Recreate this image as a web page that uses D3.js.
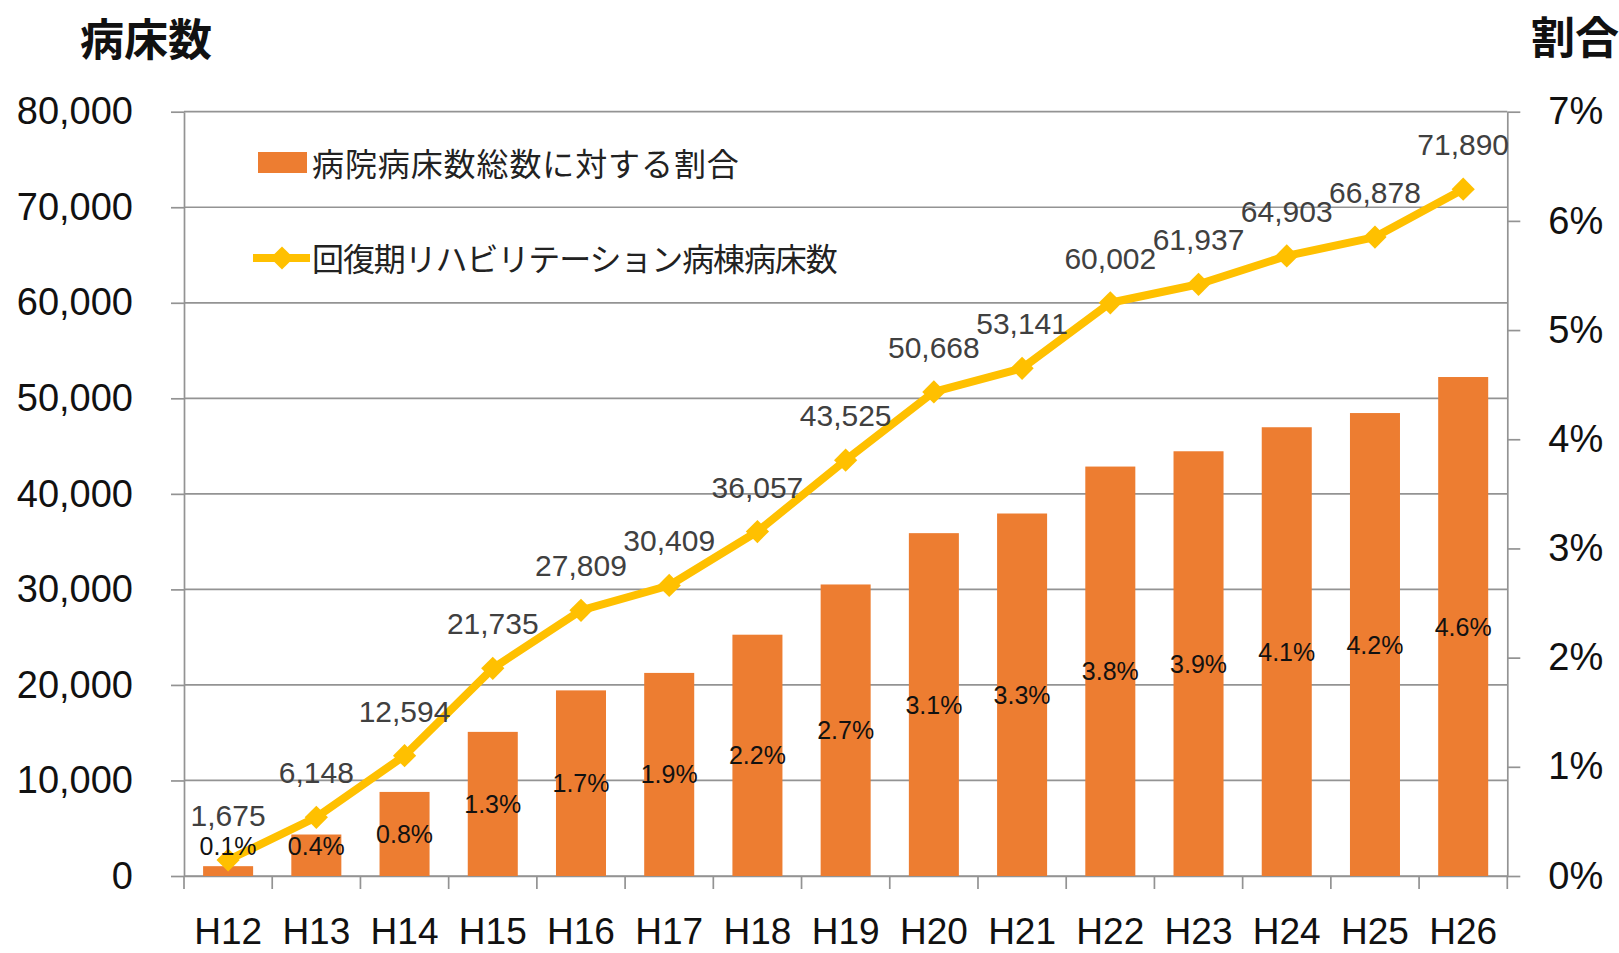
<!DOCTYPE html>
<html>
<head>
<meta charset="utf-8">
<script src="https://cdn.jsdelivr.net/npm/d3@7"></script>
<style>
  body { margin: 0; background: #fff; }
  .num { font-family: "Liberation Sans", Arial, sans-serif; }
  .jp { font-family: "Noto Sans CJK JP", sans-serif; }
</style>
</head>
<body>
<div id="chart"></div>
<script>
// data
var years = ["H12","H13","H14","H15","H16","H17","H18","H19","H20","H21","H22","H23","H24","H25","H26"];
var bedCounts = [1675, 6148, 12594, 21735, 27809, 30409, 36057, 43525, 50668, 53141, 60002, 61937, 64903, 66878, 71890];
var sharePct = [0.09, 0.38, 0.77, 1.32, 1.70, 1.86, 2.21, 2.67, 3.14, 3.32, 3.75, 3.89, 4.11, 4.24, 4.57];
var leftTicks = [0, 10000, 20000, 30000, 40000, 50000, 60000, 70000, 80000];
var rightTicks = [0, 1, 2, 3, 4, 5, 6, 7];
var legendLabels = ["病院病床数総数に対する割合", "回復期リハビリテーション病棟病床数"];

var svgWidth = 1619, svgHeight = 953;
var plot = { left: 184, right: 1507.3, top: 111.7, bottom: 876 };

var barColor = "#ED7D31";
var lineColor = "#FFC000";
var gridColor = "#939393";

var svg = d3.select("#chart").append("svg")
    .attr("width", svgWidth)
    .attr("height", svgHeight);

// scales
var x = d3.scaleBand()
    .domain(years)
    .range([plot.left, plot.right])
    .paddingInner(0.433)
    .paddingOuter(0.2165);

var yLeft = d3.scaleLinear().domain([0, 80000]).range([plot.bottom, plot.top]);
var yRight = d3.scaleLinear().domain([0, 7]).range([plot.bottom, plot.top]);

// gridlines
svg.append("g").selectAll("line")
    .data(leftTicks).enter().append("line")
    .attr("x1", plot.left).attr("x2", plot.right)
    .attr("y1", d => yLeft(d)).attr("y2", d => yLeft(d))
    .attr("stroke", gridColor).attr("stroke-width", 1.7);

// left axis
var leftAxis = d3.axisLeft(yLeft).tickValues(leftTicks)
    .tickFormat(d3.format(",")).tickSize(13).tickSizeOuter(0).tickPadding(38);
var gl = svg.append("g").attr("transform", `translate(${plot.left},0)`).call(leftAxis);

// right axis
var rightAxis = d3.axisRight(yRight).tickValues(rightTicks)
    .tickFormat(d => d + "%").tickSize(13).tickSizeOuter(0).tickPadding(28);
var gr = svg.append("g").attr("transform", `translate(${plot.right},0)`).call(rightAxis);

// bottom axis, labels only; boundary ticks drawn below
var bottomAxis = d3.axisBottom(x).tickSize(0).tickSizeOuter(0).tickPadding(42);
var gb = svg.append("g").attr("transform", `translate(0,${plot.bottom})`).call(bottomAxis);

[gl, gr, gb].forEach(function (g) {
    g.select(".domain").attr("stroke", gridColor).attr("stroke-width", 1.7);
    g.selectAll(".tick line").attr("stroke", gridColor).attr("stroke-width", 1.7);
    g.selectAll(".tick text").attr("class", "num").attr("fill", "#111").style("font-size", "38px");
});
gb.selectAll(".tick text").style("font-size", "37px");

svg.append("g").selectAll("line")
    .data(d3.range(years.length + 1)).enter().append("line")
    .attr("x1", i => plot.left + i * x.step()).attr("x2", i => plot.left + i * x.step())
    .attr("y1", plot.bottom).attr("y2", plot.bottom + 13)
    .attr("stroke", gridColor).attr("stroke-width", 1.7);

// bars
var bars = years.map((d, i) => ({ year: d, pct: sharePct[i], beds: bedCounts[i] }));

svg.append("g").selectAll("rect")
    .data(bars).enter().append("rect")
    .attr("x", d => x(d.year))
    .attr("y", d => yRight(d.pct))
    .attr("width", x.bandwidth())
    .attr("height", d => plot.bottom - yRight(d.pct))
    .attr("fill", barColor);

// line
var line = d3.line()
    .x(d => x(d.year) + x.bandwidth() / 2)
    .y(d => yLeft(d.beds));

svg.append("path")
    .datum(bars)
    .attr("d", line)
    .attr("fill", "none")
    .attr("stroke", lineColor)
    .attr("stroke-width", 8)
    .attr("stroke-linejoin", "round");

var diamond = d3.symbol(d3.symbolSquare, 270);

svg.append("g").selectAll("path")
    .data(bars).enter().append("path")
    .attr("d", diamond)
    .attr("transform", d => `translate(${x(d.year) + x.bandwidth() / 2},${yLeft(d.beds)}) rotate(45)`)
    .attr("fill", lineColor);

// percent labels in the middle of the bars (kept inside the plot), on top of the line
svg.append("g").selectAll("text")
    .data(bars).enter().append("text")
    .attr("class", "num")
    .attr("x", d => x(d.year) + x.bandwidth() / 2)
    .attr("y", d => Math.min((yRight(d.pct) + plot.bottom) / 2, plot.bottom - 30))
    .attr("text-anchor", "middle")
    .attr("dominant-baseline", "central")
    .style("font-size", "25px")
    .attr("fill", "#111")
    .text(d => d.pct.toFixed(1) + "%");

svg.append("g").selectAll("text")
    .data(bars).enter().append("text")
    .attr("class", "num")
    .attr("x", d => x(d.year) + x.bandwidth() / 2)
    .attr("y", d => yLeft(d.beds) - 34)
    .attr("text-anchor", "middle")
    .style("font-size", "30px")
    .attr("fill", "#404040")
    .text(d => d3.format(",")(d.beds));

// axis titles
svg.append("text")
    .attr("class", "jp")
    .attr("x", 80).attr("y", 37)
    .attr("dominant-baseline", "central")
    .style("font-size", "44px").style("font-weight", "bold")
    .attr("fill", "#111")
    .text("病床数");

svg.append("text")
    .attr("class", "jp")
    .attr("x", 1531).attr("y", 35)
    .attr("dominant-baseline", "central")
    .style("font-size", "44px").style("font-weight", "bold")
    .attr("fill", "#111")
    .text("割合");

// legend
var legend = svg.append("g");

legend.append("rect")
    .attr("x", 258).attr("y", 152)
    .attr("width", 49).attr("height", 21)
    .attr("fill", barColor);

legend.append("line")
    .attr("x1", 253).attr("x2", 310)
    .attr("y1", 258).attr("y2", 258)
    .attr("stroke", lineColor).attr("stroke-width", 8);

legend.append("path")
    .attr("d", diamond)
    .attr("transform", "translate(282,258) rotate(45)")
    .attr("fill", lineColor);

legend.selectAll("text.leg")
    .data(legendLabels).enter().append("text")
    .attr("class", "jp")
    .attr("x", 312)
    .attr("y", (d, i) => i === 0 ? 162 : 257)
    .attr("dominant-baseline", "central")
    .style("font-size", "32px")
    .style("letter-spacing", (d, i) => i === 0 ? "0.9px" : "-1.1px")
    .attr("fill", "#222")
    .text(d => d);
</script>
</body>
</html>
